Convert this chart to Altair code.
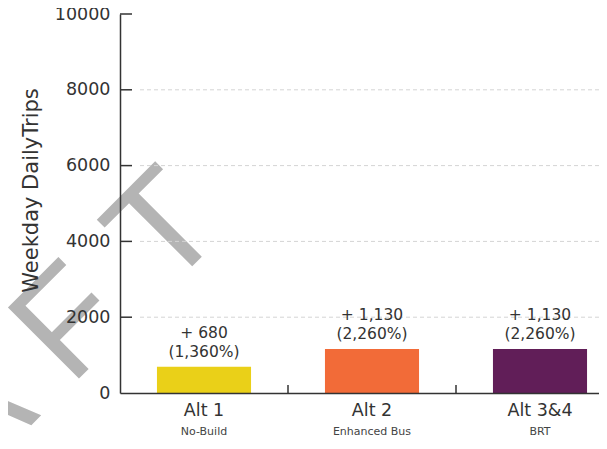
import altair as alt
import pandas as pd

categories = ["Alt 1", "Alt 2", "Alt 3&4"]
subtitles = ["No-Build", "Enhanced Bus", "BRT"]
trips = [690, 1160, 1160]
change_labels = ["+ 680", "+ 1,130", "+ 1,130"]
pct_labels = ["(1,360%)", "(2,260%)", "(2,260%)"]
bar_colors = ["#EAD018", "#F26B38", "#611E58"]
y_ticks = [0, 2000, 4000, 6000, 8000, 10000]
grid_values = [2000, 4000, 6000, 8000]
tick_values = [2000, 4000, 6000, 8000, 10000]
separators = [1.5, 2.5]
watermark_letters = ["D", "R", "A", "F", "T"]

W, H = 479, 379
FONT = "DejaVu Sans"
TXT = "#333333"

df = pd.DataFrame({
    "cat": categories,
    "sub": subtitles,
    "trips": trips,
    "chg": change_labels,
    "pct": pct_labels,
    "color": bar_colors,
})
df["pos"] = range(1, len(df) + 1)
df["x0"] = df["pos"] - 0.28
df["x1"] = df["pos"] + 0.28

xscale = alt.Scale(domain=[0.5, 0.5 + W / 168], nice=False, zero=False)
yscale = alt.Scale(domain=[0, 10000], nice=False)

xaxis = alt.Axis(labels=False, ticks=False, grid=False, title=None,
                 domainColor=TXT, domainWidth=1.5, zindex=2)
yaxis = alt.Axis(values=y_ticks, format="d", ticks=False, grid=False, labelPadding=10,
                 labelFont=FONT, labelFontSize=17.5, labelColor=TXT,
                 domainColor=TXT, domainWidth=1.5,
                 title="Weekday DailyTrips", titleFont=FONT, titleFontSize=21,
                 titleFontWeight="normal", titleColor=TXT,
                 titleX=-89, titleY=176, titleAlign="center", titleBaseline="middle",
                 titleAngle=270, zindex=2)

base = alt.Chart(df)

# decorative "DRAFT" watermark, one glyph at a time along a 45-degree baseline
wm_anchor = (77, 247.5)   # baseline centre of the last letter, plot pixels
wm_step = (-95, 94)       # pixel step between letter centres
wm_layers = []
n = len(watermark_letters)
for i, letter in enumerate(watermark_letters):
    k = n - 1 - i
    wm_layers.append(
        alt.Chart(pd.DataFrame({"t": [letter]})).mark_text(
            font="Liberation Sans", fontSize=146, color="#b4b4b4", angle=315,
            align="center", baseline="alphabetic"
        ).encode(
            x=alt.value(wm_anchor[0] + k * wm_step[0]),
            y=alt.value(wm_anchor[1] + k * wm_step[1]),
            text="t:N",
        )
    )

grid = alt.Chart(pd.DataFrame({"v": grid_values})).mark_rule(
    color="#d4d4d4", strokeDash=[4, 3], strokeWidth=1
).encode(
    y=alt.Y("v:Q", scale=yscale, axis=yaxis),
    x=alt.value(20), x2=alt.value(W),
)

yt = alt.Chart(pd.DataFrame({"v": tick_values})).mark_rule(
    color=TXT, strokeWidth=1.5
).encode(
    y=alt.Y("v:Q", scale=yscale, axis=yaxis),
    x=alt.value(0), x2=alt.value(12),
)

sep = alt.Chart(pd.DataFrame({"s": separators})).mark_rule(
    color=TXT, strokeWidth=1.5
).encode(
    x=alt.X("s:Q", scale=xscale, axis=xaxis),
    y=alt.datum(0, scale=yscale, axis=yaxis), y2=alt.value(H - 8),
)

bars = base.mark_bar().encode(
    x=alt.X("x0:Q", scale=xscale, axis=xaxis),
    x2="x1:Q",
    y=alt.Y("trips:Q", scale=yscale, axis=yaxis),
    y2=alt.datum(0),
    color=alt.Color("color:N", scale=None, legend=None),
)

def lbl(field, size, color, dy, yfield=None):
    y = (alt.Y(yfield + ":Q", scale=yscale, axis=yaxis) if yfield
         else alt.datum(0, scale=yscale, axis=yaxis))
    return base.mark_text(font=FONT, fontSize=size, color=color,
                          baseline="middle", dy=dy).encode(
        x=alt.X("pos:Q", scale=xscale, axis=xaxis), y=y, text=field + ":N")

chg = lbl("chg", 15.5, TXT, -34, "trips")
pct = lbl("pct", 15.5, TXT, -15, "trips")
catlbl = lbl("cat", 17.5, TXT, 18)
sublbl = lbl("sub", 11, "#444444", 39)

chart = alt.layer(
    *wm_layers, grid, yt, sep, bars, chg, pct, catlbl, sublbl
).properties(
    width=W, height=H,
    autosize=alt.AutoSizeParams(type="none"),
    padding={"left": 112, "top": 6, "right": 0, "bottom": 43},
).configure_view(stroke=None)

chart.save("out.html", embed_options={"renderer": "svg", "actions": False})
